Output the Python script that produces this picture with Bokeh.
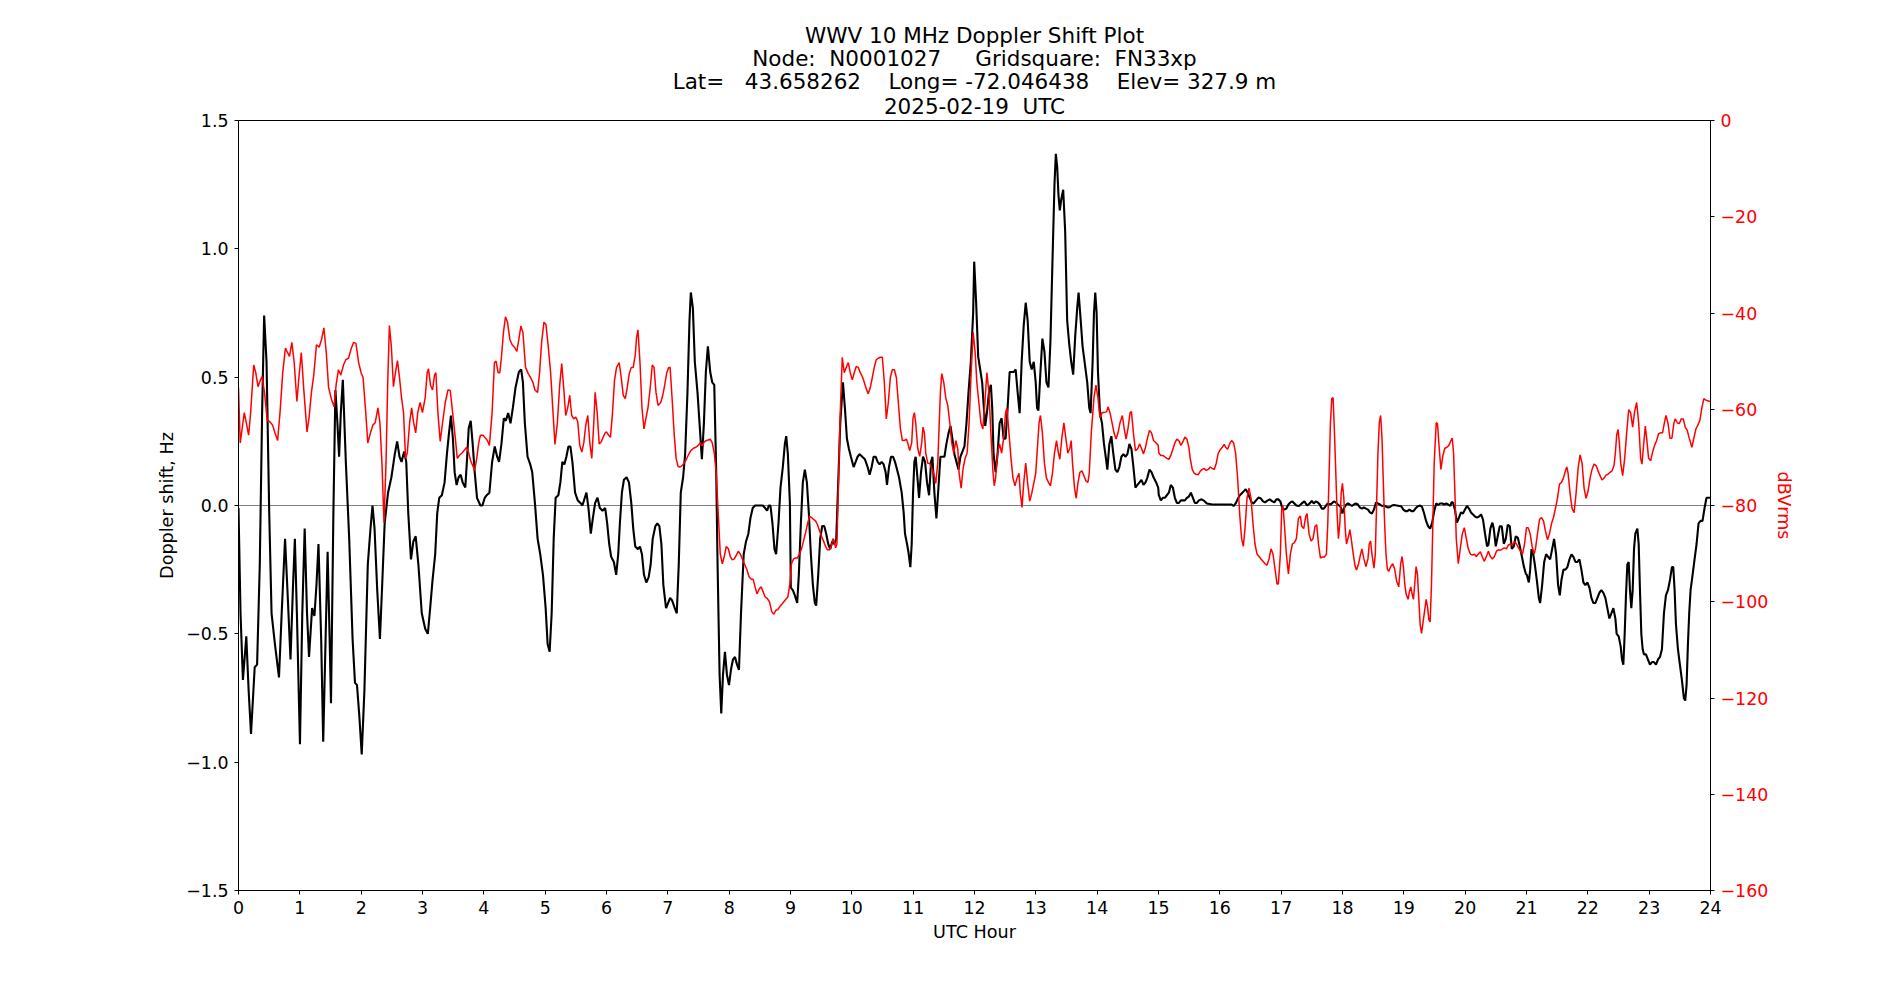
from bokeh.plotting import figure
from bokeh.models import Range1d, LinearAxis, FixedTicker, CustomJSTickFormatter, Span, Title
from bokeh.embed import file_html
from bokeh.resources import INLINE

# ---------------- data (hour, value) ----------------
hz_00_03 = [(0.000,-0.01),(0.033,-0.42),(0.072,-0.68),(0.127,-0.51),(0.165,-0.72),(0.204,-0.89),(0.264,-0.63),(0.303,-0.62),(0.347,-0.23),(0.385,0.36),(0.418,0.74),(0.457,0.56),(0.501,-0.03),(0.539,-0.42),(0.594,-0.54),(0.660,-0.67),(0.704,-0.42),(0.759,-0.13),(0.798,-0.33),(0.848,-0.60),(0.886,-0.33),(0.919,-0.13),(0.952,-0.42),(1.002,-0.93),(1.040,-0.42),(1.079,-0.09),(1.117,-0.42),(1.150,-0.59),(1.200,-0.40),(1.238,-0.43),(1.271,-0.31),(1.304,-0.15),(1.348,-0.52),(1.381,-0.92),(1.420,-0.52),(1.453,-0.18),(1.486,-0.52),(1.508,-0.77),(1.547,-0.03),(1.580,0.45),(1.613,0.32),(1.640,0.19),(1.668,0.36),(1.701,0.49),(1.750,0.17),(1.805,-0.13),(1.860,-0.52),(1.899,-0.69),(1.932,-0.70),(1.970,-0.82),(2.009,-0.97),(2.053,-0.72),(2.108,-0.23),(2.152,-0.09),(2.185,0.00),(2.218,-0.09),(2.262,-0.33),(2.306,-0.52),(2.339,-0.33),(2.383,-0.07),(2.438,0.05),(2.493,0.11),(2.548,0.20),(2.587,0.25),(2.625,0.19),(2.658,0.17),(2.702,0.21),(2.735,0.17),(2.768,-0.03),(2.812,-0.21),(2.851,-0.14),(2.889,-0.12),(2.933,-0.23),(2.988,-0.42)]
hz_03_06 = [(3.044,-0.48),(3.087,-0.50),(3.125,-0.40),(3.164,-0.29),(3.207,-0.19),(3.240,-0.03),(3.273,0.03),(3.316,0.04),(3.360,0.09),(3.398,0.20),(3.431,0.28),(3.464,0.35),(3.496,0.26),(3.524,0.13),(3.556,0.08),(3.589,0.11),(3.622,0.12),(3.655,0.09),(3.698,0.07),(3.731,0.20),(3.753,0.30),(3.786,0.33),(3.818,0.24),(3.851,0.13),(3.889,0.03),(3.944,0.00),(3.977,0.00),(4.015,0.03),(4.047,0.04),(4.091,0.05),(4.135,0.17),(4.178,0.23),(4.217,0.19),(4.249,0.17),(4.287,0.24),(4.326,0.34),(4.358,0.33),(4.397,0.36),(4.435,0.32),(4.473,0.38),(4.517,0.46),(4.571,0.52),(4.609,0.53),(4.637,0.48),(4.669,0.32),(4.713,0.19),(4.757,0.16),(4.789,0.13),(4.833,0.01),(4.877,-0.13),(4.920,-0.19),(4.964,-0.27),(5.008,-0.40),(5.040,-0.54),(5.073,-0.57),(5.106,-0.42),(5.139,-0.13),(5.171,0.03),(5.215,0.04),(5.248,0.09),(5.280,0.17),(5.313,0.16),(5.346,0.19),(5.379,0.23),(5.411,0.23),(5.444,0.17),(5.488,0.05),(5.531,0.02),(5.575,0.01),(5.608,0.00),(5.646,0.03),(5.673,0.05),(5.706,-0.01),(5.744,-0.11),(5.777,-0.05),(5.815,0.01),(5.853,0.03),(5.891,-0.01),(5.935,-0.02),(5.979,-0.01)]
hz_06_09 = [(6.011,-0.07),(6.044,-0.15),(6.076,-0.20),(6.120,-0.22),(6.158,-0.27),(6.191,-0.19),(6.218,-0.07),(6.251,0.05),(6.284,0.10),(6.327,0.11),(6.366,0.09),(6.404,0.01),(6.436,-0.09),(6.469,-0.16),(6.513,-0.17),(6.546,-0.16),(6.578,-0.19),(6.611,-0.27),(6.649,-0.30),(6.687,-0.28),(6.720,-0.23),(6.753,-0.13),(6.797,-0.08),(6.829,-0.07),(6.862,-0.08),(6.895,-0.15),(6.927,-0.31),(6.971,-0.40),(7.004,-0.38),(7.037,-0.36),(7.069,-0.37),(7.113,-0.40),(7.146,-0.42),(7.178,-0.23),(7.211,0.05),(7.249,0.11),(7.282,0.20),(7.320,0.44),(7.353,0.72),(7.375,0.83),(7.408,0.77),(7.440,0.56),(7.484,0.44),(7.517,0.32),(7.555,0.18),(7.588,0.32),(7.620,0.52),(7.653,0.62),(7.691,0.52),(7.724,0.48),(7.757,0.47),(7.789,0.13),(7.811,-0.23),(7.844,-0.66),(7.871,-0.81),(7.899,-0.66),(7.931,-0.57),(7.964,-0.66),(7.997,-0.70),(8.029,-0.64),(8.062,-0.60),(8.095,-0.59),(8.128,-0.62),(8.160,-0.64),(8.193,-0.42),(8.237,-0.19),(8.275,-0.14),(8.313,-0.11),(8.346,-0.05),(8.384,-0.01),(8.422,0.00),(8.466,0.00),(8.510,0.00),(8.548,0.00),(8.586,-0.01),(8.619,-0.02),(8.646,0.00),(8.673,0.00),(8.706,-0.07),(8.739,-0.17),(8.766,-0.19),(8.804,-0.07),(8.837,0.07),(8.875,0.15),(8.908,0.24),(8.930,0.27),(8.957,0.20),(8.990,0.01)]
hz_09_12 = [(9.005,-0.32),(9.038,-0.33),(9.071,-0.35),(9.109,-0.38),(9.136,-0.27),(9.169,-0.07),(9.201,0.09),(9.234,0.14),(9.267,0.09),(9.299,-0.03),(9.332,-0.19),(9.365,-0.31),(9.397,-0.38),(9.419,-0.39),(9.452,-0.27),(9.484,-0.13),(9.517,-0.08),(9.550,-0.08),(9.582,-0.11),(9.615,-0.15),(9.648,-0.17),(9.680,-0.14),(9.713,-0.15),(9.746,-0.13),(9.778,0.09),(9.811,0.32),(9.855,0.48),(9.887,0.38),(9.920,0.26),(9.953,0.22),(9.985,0.19),(10.029,0.15),(10.062,0.17),(10.094,0.19),(10.127,0.20),(10.170,0.19),(10.214,0.18),(10.257,0.15),(10.290,0.12),(10.323,0.15),(10.355,0.19),(10.388,0.19),(10.421,0.17),(10.453,0.16),(10.486,0.17),(10.519,0.16),(10.551,0.13),(10.573,0.08),(10.606,0.15),(10.639,0.19),(10.671,0.19),(10.704,0.17),(10.737,0.14),(10.769,0.11),(10.813,0.05),(10.846,-0.03),(10.867,-0.11),(10.900,-0.15),(10.922,-0.18),(10.954,-0.24),(10.976,-0.15),(10.998,0.05),(11.020,0.17),(11.041,0.19),(11.069,0.11),(11.096,0.03),(11.128,0.13),(11.161,0.19),(11.194,0.17),(11.226,0.09),(11.259,0.04),(11.292,0.17),(11.314,0.19),(11.346,0.05),(11.379,-0.05),(11.412,0.07),(11.444,0.19),(11.477,0.19),(11.510,0.19),(11.542,0.24),(11.575,0.28),(11.608,0.31),(11.640,0.26),(11.673,0.20),(11.706,0.17),(11.738,0.14),(11.771,0.19),(11.803,0.21),(11.836,0.23),(11.869,0.32),(11.902,0.44),(11.940,0.56),(11.978,0.75)]
hz_12_15 = [(11.995,0.95),(12.027,0.79),(12.060,0.58),(12.093,0.53),(12.125,0.48),(12.147,0.40),(12.175,0.31),(12.202,0.36),(12.235,0.44),(12.267,0.47),(12.289,0.38),(12.311,0.20),(12.344,0.13),(12.376,0.20),(12.409,0.32),(12.442,0.34),(12.475,0.26),(12.507,0.26),(12.540,0.38),(12.573,0.52),(12.606,0.52),(12.638,0.52),(12.671,0.53),(12.704,0.44),(12.736,0.36),(12.769,0.56),(12.802,0.70),(12.835,0.79),(12.867,0.72),(12.900,0.56),(12.933,0.53),(12.966,0.56),(12.998,0.48),(13.020,0.38),(13.042,0.37),(13.075,0.52),(13.107,0.65),(13.140,0.60),(13.173,0.48),(13.206,0.46),(13.238,0.64),(13.271,0.95),(13.304,1.25),(13.326,1.37),(13.348,1.32),(13.369,1.21),(13.391,1.15),(13.413,1.19),(13.446,1.23),(13.478,1.07),(13.511,0.72),(13.544,0.63),(13.577,0.56),(13.609,0.51),(13.642,0.66),(13.675,0.77),(13.697,0.83),(13.729,0.73),(13.762,0.62),(13.795,0.56),(13.838,0.48),(13.871,0.38),(13.893,0.36),(13.926,0.56),(13.948,0.75),(13.969,0.83),(13.991,0.75),(14.013,0.52),(14.046,0.36),(14.079,0.32),(14.111,0.24),(14.139,0.19),(14.166,0.14),(14.199,0.24),(14.231,0.27),(14.264,0.20),(14.297,0.14),(14.330,0.13),(14.362,0.15),(14.395,0.19),(14.428,0.20),(14.460,0.19),(14.493,0.20),(14.526,0.24),(14.559,0.22),(14.591,0.15),(14.624,0.07),(14.657,0.08),(14.690,0.09),(14.722,0.10),(14.755,0.08),(14.788,0.09),(14.820,0.11),(14.853,0.14),(14.886,0.13),(14.919,0.11),(14.962,0.09),(14.995,0.07)]
hz_15_18 = [(15.005,0.04),(15.038,0.02),(15.071,0.03),(15.103,0.03),(15.136,0.04),(15.169,0.05),(15.201,0.08),(15.234,0.07),(15.267,0.03),(15.299,0.01),(15.332,0.01),(15.365,0.02),(15.397,0.02),(15.430,0.02),(15.463,0.03),(15.495,0.035),(15.528,0.05),(15.561,0.03),(15.593,0.01),(15.626,0.01),(15.659,0.02),(15.702,0.024),(15.746,0.018),(15.789,0.008),(15.833,0.006),(15.876,0.004),(15.974,0.004),(16.083,0.004),(16.192,0.004),(16.225,-0.002),(16.257,0.008),(16.290,0.024),(16.323,0.039),(16.355,0.047),(16.388,0.055),(16.421,0.063),(16.453,0.051),(16.486,0.031),(16.519,0.012),(16.551,0.008),(16.584,0.018),(16.628,0.031),(16.671,0.027),(16.704,0.016),(16.737,0.012),(16.769,0.018),(16.813,0.024),(16.856,0.016),(16.889,0.012),(16.922,0.024),(16.954,0.024),(16.987,0.016),(17.020,-0.012),(17.052,-0.016),(17.085,-0.012),(17.118,0.004),(17.150,0.012),(17.183,0.016),(17.216,0.008),(17.248,0.000),(17.292,-0.002),(17.335,0.008),(17.379,0.016),(17.422,0.000),(17.466,0.008),(17.499,0.018),(17.531,0.008),(17.564,0.016),(17.597,0.012),(17.629,0.004),(17.662,-0.012),(17.695,-0.012),(17.727,-0.002),(17.760,0.008),(17.793,0.004),(17.825,0.008),(17.858,0.016),(17.891,0.012),(17.923,0.004),(17.967,-0.004),(17.999,-0.031)]
hz_18_21 = [(18.022,-0.012),(18.055,0.002),(18.087,0.008),(18.120,0.004),(18.153,-0.002),(18.185,0.004),(18.218,0.008),(18.251,0.004),(18.284,-0.008),(18.316,-0.012),(18.349,-0.008),(18.382,-0.012),(18.415,-0.016),(18.447,-0.027),(18.480,-0.031),(18.513,-0.016),(18.546,0.012),(18.578,0.008),(18.611,0.004),(18.644,-0.002),(18.676,0.000),(18.709,-0.004),(18.742,-0.008),(18.775,-0.006),(18.807,0.000),(18.840,0.002),(18.884,0.000),(18.927,-0.002),(18.960,-0.004),(18.993,-0.016),(19.026,-0.022),(19.058,-0.022),(19.091,-0.016),(19.124,-0.022),(19.157,-0.022),(19.189,-0.012),(19.222,-0.004),(19.266,0.000),(19.298,-0.006),(19.331,-0.031),(19.364,-0.061),(19.397,-0.081),(19.429,-0.090),(19.462,-0.067),(19.495,-0.022),(19.528,0.008),(19.560,0.002),(19.593,0.008),(19.626,0.008),(19.658,0.004),(19.691,0.008),(19.724,0.004),(19.757,-0.002),(19.778,0.012),(19.800,0.012),(19.833,-0.016),(19.866,-0.067),(19.899,-0.047),(19.931,-0.027),(19.964,-0.031),(19.997,-0.016),(20.029,-0.002),(20.062,-0.012),(20.095,-0.027),(20.128,-0.035),(20.160,-0.043),(20.193,-0.047),(20.226,-0.043),(20.259,-0.035),(20.291,-0.055),(20.324,-0.110),(20.357,-0.159),(20.379,-0.153),(20.411,-0.090),(20.444,-0.067),(20.466,-0.090),(20.499,-0.159),(20.531,-0.120),(20.564,-0.081),(20.597,-0.081),(20.630,-0.149),(20.662,-0.130),(20.695,-0.075),(20.728,-0.081),(20.760,-0.169),(20.793,-0.159),(20.826,-0.120),(20.859,-0.126),(20.891,-0.159),(20.924,-0.198),(20.957,-0.238),(20.990,-0.267)]
hz_21_24 = [(21.005,-0.27),(21.038,-0.30),(21.060,-0.25),(21.081,-0.17),(21.103,-0.18),(21.136,-0.23),(21.168,-0.29),(21.201,-0.36),(21.222,-0.38),(21.255,-0.31),(21.288,-0.22),(21.320,-0.19),(21.353,-0.20),(21.385,-0.21),(21.418,-0.17),(21.450,-0.13),(21.483,-0.19),(21.515,-0.31),(21.543,-0.35),(21.570,-0.29),(21.602,-0.25),(21.635,-0.25),(21.667,-0.24),(21.700,-0.21),(21.733,-0.19),(21.765,-0.20),(21.798,-0.22),(21.830,-0.22),(21.863,-0.21),(21.895,-0.25),(21.928,-0.30),(21.960,-0.31),(21.993,-0.30),(22.026,-0.32),(22.058,-0.36),(22.091,-0.38),(22.123,-0.38),(22.156,-0.36),(22.188,-0.34),(22.221,-0.33),(22.253,-0.34),(22.286,-0.36),(22.318,-0.40),(22.351,-0.44),(22.384,-0.42),(22.416,-0.40),(22.449,-0.44),(22.470,-0.50),(22.503,-0.51),(22.536,-0.55),(22.557,-0.60),(22.579,-0.62),(22.601,-0.50),(22.622,-0.35),(22.644,-0.23),(22.666,-0.22),(22.687,-0.33),(22.709,-0.40),(22.731,-0.33),(22.753,-0.17),(22.774,-0.11),(22.807,-0.09),(22.829,-0.15),(22.850,-0.33),(22.872,-0.50),(22.894,-0.56),(22.915,-0.58),(22.948,-0.58),(22.980,-0.60),(23.013,-0.62),(23.046,-0.61),(23.078,-0.61),(23.111,-0.62),(23.143,-0.60),(23.176,-0.59),(23.208,-0.56),(23.241,-0.42),(23.273,-0.35),(23.306,-0.33),(23.339,-0.29),(23.371,-0.24),(23.393,-0.24),(23.415,-0.33),(23.436,-0.46),(23.469,-0.56),(23.501,-0.62),(23.534,-0.68),(23.566,-0.75),(23.588,-0.76),(23.610,-0.70),(23.632,-0.54),(23.653,-0.42),(23.675,-0.33),(23.708,-0.27),(23.740,-0.21),(23.773,-0.15),(23.805,-0.07),(23.838,-0.06),(23.870,-0.06),(23.903,-0.01),(23.935,0.03),(23.968,0.03),(24.000,0.03)]

db_00_03 = [(0.000,-55.5),(0.028,-67.0),(0.061,-63.9),(0.094,-60.7),(0.127,-62.8),(0.165,-65.4),(0.198,-60.7),(0.248,-50.8),(0.281,-52.4),(0.319,-55.3),(0.358,-53.9),(0.385,-53.2),(0.424,-56.5),(0.468,-62.3),(0.512,-62.6),(0.556,-63.3),(0.594,-64.9),(0.638,-66.5),(0.677,-60.7),(0.721,-52.4),(0.765,-47.3),(0.798,-48.2),(0.831,-49.0),(0.870,-46.1),(0.908,-50.3),(0.952,-58.4),(0.985,-53.4),(1.024,-48.2),(1.062,-55.5),(1.117,-64.7),(1.150,-61.8),(1.189,-56.5),(1.227,-52.9),(1.271,-46.6),(1.315,-47.1),(1.354,-45.5),(1.392,-43.1),(1.431,-48.2),(1.469,-55.5),(1.519,-58.1),(1.558,-59.5),(1.591,-55.0),(1.629,-51.8),(1.668,-52.9),(1.712,-50.8),(1.750,-49.7),(1.794,-49.4),(1.833,-47.6),(1.877,-46.1),(1.915,-46.3),(1.959,-50.3),(1.998,-52.4),(2.031,-53.4),(2.075,-60.7),(2.108,-67.0),(2.152,-64.9),(2.190,-63.3),(2.229,-62.8),(2.273,-59.7),(2.306,-62.8),(2.339,-71.2),(2.372,-83.6),(2.405,-71.2),(2.433,-54.4),(2.460,-42.6),(2.493,-47.1),(2.526,-55.3),(2.559,-52.4),(2.592,-49.9),(2.625,-53.4),(2.658,-57.6),(2.691,-60.7),(2.724,-70.2),(2.752,-69.1),(2.790,-62.8),(2.823,-59.7),(2.856,-62.8),(2.889,-64.9),(2.922,-60.7),(2.961,-58.6),(2.999,-60.7)]
db_03_06 = [(3.044,-57.6),(3.076,-52.4),(3.098,-51.6),(3.131,-55.0),(3.164,-56.0),(3.196,-52.9),(3.218,-52.4),(3.251,-60.7),(3.289,-66.7),(3.327,-62.8),(3.371,-58.6),(3.415,-56.0),(3.453,-56.1),(3.491,-60.7),(3.535,-66.0),(3.567,-70.2),(3.600,-69.6),(3.644,-69.1),(3.687,-68.4),(3.720,-67.9),(3.753,-69.1),(3.786,-70.7),(3.818,-71.7),(3.851,-72.7),(3.884,-70.2),(3.917,-67.0),(3.944,-65.4),(3.987,-65.4),(4.026,-66.0),(4.058,-66.5),(4.091,-67.5),(4.135,-60.7),(4.173,-50.3),(4.200,-50.0),(4.233,-52.4),(4.260,-52.4),(4.287,-49.2),(4.320,-44.0),(4.353,-40.8),(4.386,-41.9),(4.424,-45.5),(4.462,-46.6),(4.500,-47.1),(4.538,-48.0),(4.571,-45.5),(4.604,-42.7),(4.637,-44.0),(4.680,-51.3),(4.724,-52.6),(4.762,-53.4),(4.800,-54.4),(4.833,-56.0),(4.877,-56.5),(4.909,-52.4),(4.942,-46.1),(4.980,-41.9),(5.013,-42.4),(5.051,-47.1),(5.089,-52.4),(5.128,-60.7),(5.160,-67.3),(5.199,-62.8),(5.237,-55.0),(5.270,-50.5),(5.302,-55.5),(5.335,-61.3),(5.368,-59.7),(5.400,-57.1),(5.433,-61.3),(5.466,-62.0),(5.499,-61.6),(5.531,-62.6),(5.564,-67.5),(5.597,-68.9),(5.630,-67.0),(5.662,-63.3),(5.695,-61.3),(5.728,-67.0),(5.760,-70.2),(5.793,-62.8),(5.815,-56.5),(5.848,-60.7),(5.881,-67.2),(5.913,-66.8),(5.946,-65.8),(5.979,-64.9)]
db_06_09 = [(6.000,-64.7),(6.033,-65.4),(6.065,-65.8),(6.098,-60.7),(6.131,-53.9),(6.164,-51.3),(6.207,-50.3),(6.240,-53.4),(6.273,-57.1),(6.306,-57.8),(6.338,-55.5),(6.371,-52.6),(6.404,-51.3),(6.436,-51.3),(6.469,-48.7),(6.491,-45.0),(6.513,-43.5),(6.546,-50.3),(6.578,-59.7),(6.611,-64.1),(6.644,-61.8),(6.676,-59.7),(6.709,-56.0),(6.747,-50.8),(6.775,-51.3),(6.807,-56.5),(6.840,-59.2),(6.884,-58.6),(6.917,-57.1),(6.949,-55.0),(6.982,-52.4),(7.015,-51.3),(7.037,-51.3),(7.069,-57.6),(7.102,-64.9),(7.135,-70.2),(7.167,-71.9),(7.200,-72.0),(7.233,-71.7),(7.266,-71.2),(7.298,-70.5),(7.331,-69.6),(7.375,-68.6),(7.418,-68.1),(7.457,-67.9),(7.495,-67.5),(7.528,-67.0),(7.560,-67.6),(7.593,-66.8),(7.626,-66.5),(7.658,-66.4),(7.691,-66.2),(7.724,-67.0),(7.757,-69.1),(7.789,-73.3),(7.822,-81.7),(7.855,-90.1),(7.888,-92.1),(7.920,-90.6),(7.953,-88.5),(7.986,-89.0),(8.019,-90.6),(8.051,-91.3),(8.084,-91.1),(8.117,-90.3),(8.149,-89.5),(8.182,-90.1),(8.215,-91.1),(8.248,-92.1),(8.291,-93.4),(8.324,-94.8),(8.357,-95.3),(8.390,-95.3),(8.422,-96.9),(8.455,-98.4),(8.488,-97.4),(8.520,-96.9),(8.553,-97.9),(8.586,-99.0),(8.619,-99.3),(8.657,-100.0),(8.695,-102.1),(8.728,-102.6),(8.760,-101.8),(8.793,-101.6),(8.826,-101.0),(8.859,-100.5),(8.891,-100.0),(8.924,-99.5),(8.957,-99.0),(8.990,-96.3)]
db_09_12 = [(9.016,-92.1),(9.049,-91.1),(9.082,-90.9),(9.114,-90.9),(9.147,-90.1),(9.180,-89.0),(9.212,-87.4),(9.245,-85.7),(9.278,-83.8),(9.310,-82.2),(9.343,-82.5),(9.376,-82.9),(9.408,-83.2),(9.441,-84.0),(9.474,-85.3),(9.506,-86.4),(9.539,-87.4),(9.572,-88.5),(9.604,-89.2),(9.637,-89.2),(9.670,-88.2),(9.691,-86.9),(9.713,-87.4),(9.735,-88.8),(9.757,-88.0),(9.778,-77.5),(9.811,-60.7),(9.844,-49.2),(9.876,-52.4),(9.909,-51.3),(9.942,-50.3),(9.974,-52.4),(10.007,-53.9),(10.040,-52.4),(10.072,-51.1),(10.105,-51.3),(10.138,-52.4),(10.170,-53.2),(10.203,-54.4),(10.236,-55.8),(10.268,-56.8),(10.301,-55.5),(10.334,-53.4),(10.366,-51.3),(10.399,-49.7),(10.432,-49.4),(10.464,-49.2),(10.497,-49.2),(10.530,-54.4),(10.562,-62.0),(10.595,-58.6),(10.628,-53.4),(10.660,-51.8),(10.693,-51.8),(10.726,-53.4),(10.758,-58.6),(10.791,-63.9),(10.824,-66.5),(10.856,-66.5),(10.889,-66.2),(10.911,-67.0),(10.943,-68.6),(10.976,-67.0),(10.998,-61.8),(11.020,-60.7),(11.041,-62.8),(11.074,-68.1),(11.107,-69.8),(11.139,-67.0),(11.161,-63.7),(11.183,-64.9),(11.205,-69.1),(11.237,-71.2),(11.270,-71.2),(11.303,-72.3),(11.335,-73.3),(11.368,-75.4),(11.401,-71.2),(11.422,-63.9),(11.444,-56.5),(11.466,-52.6),(11.499,-54.4),(11.531,-57.6),(11.564,-59.2),(11.597,-62.8),(11.629,-67.0),(11.662,-69.1),(11.695,-66.5),(11.727,-68.1),(11.749,-73.3),(11.782,-76.4),(11.814,-72.3),(11.847,-70.2),(11.880,-69.1),(11.912,-62.8),(11.945,-52.4),(11.978,-44.0)]
db_12_15 = [(12.011,-48.2),(12.038,-54.4),(12.071,-58.6),(12.104,-62.8),(12.136,-64.1),(12.169,-58.6),(12.202,-52.4),(12.235,-56.5),(12.267,-64.9),(12.300,-72.8),(12.322,-75.9),(12.344,-74.3),(12.376,-69.1),(12.409,-67.2),(12.442,-69.1),(12.475,-66.0),(12.507,-60.7),(12.529,-59.7),(12.562,-64.9),(12.595,-70.2),(12.627,-74.3),(12.660,-75.9),(12.693,-74.3),(12.726,-73.3),(12.747,-77.5),(12.775,-80.4),(12.802,-75.4),(12.835,-71.2),(12.867,-75.4),(12.900,-79.1),(12.933,-77.5),(12.966,-75.4),(12.998,-73.3),(13.031,-67.0),(13.053,-62.8),(13.075,-61.3),(13.107,-64.9),(13.140,-71.2),(13.173,-74.3),(13.206,-75.2),(13.238,-75.9),(13.271,-73.3),(13.304,-69.1),(13.337,-66.5),(13.369,-69.1),(13.391,-70.4),(13.424,-66.0),(13.457,-62.8),(13.489,-66.0),(13.522,-69.1),(13.555,-68.1),(13.577,-66.5),(13.598,-71.2),(13.631,-76.4),(13.658,-78.5),(13.686,-75.4),(13.718,-73.1),(13.751,-72.8),(13.784,-73.8),(13.817,-74.9),(13.849,-75.2),(13.871,-73.3),(13.904,-64.9),(13.948,-57.6),(13.980,-55.0),(14.013,-57.6),(14.046,-61.8),(14.079,-60.7),(14.111,-60.7),(14.155,-60.5),(14.177,-59.5),(14.209,-60.7),(14.242,-62.8),(14.275,-64.9),(14.308,-66.2),(14.340,-64.9),(14.373,-62.8),(14.411,-61.3),(14.439,-63.9),(14.471,-66.2),(14.504,-63.9),(14.537,-60.7),(14.559,-60.5),(14.591,-64.9),(14.624,-68.6),(14.657,-68.3),(14.690,-67.2),(14.722,-68.1),(14.755,-69.3),(14.788,-67.9),(14.820,-66.0),(14.853,-64.4),(14.886,-64.9),(14.919,-66.5),(14.962,-67.0),(14.995,-67.5)]
db_15_18 = [(15.005,-69.1),(15.038,-69.6),(15.071,-69.6),(15.103,-69.9),(15.136,-70.2),(15.169,-70.4),(15.201,-69.6),(15.234,-68.3),(15.267,-67.0),(15.299,-66.2),(15.332,-66.5),(15.365,-67.5),(15.397,-66.8),(15.430,-65.8),(15.463,-66.2),(15.495,-67.9),(15.517,-70.2),(15.550,-72.5),(15.582,-73.3),(15.615,-73.5),(15.648,-73.6),(15.680,-72.9),(15.713,-72.5),(15.746,-72.3),(15.778,-72.7),(15.811,-72.5),(15.844,-72.0),(15.876,-72.3),(15.909,-72.5),(15.942,-71.2),(15.974,-69.1),(16.007,-68.4),(16.040,-67.9),(16.072,-67.3),(16.094,-67.9),(16.127,-68.3),(16.159,-67.2),(16.192,-66.5),(16.225,-67.0),(16.257,-69.1),(16.290,-74.3),(16.323,-81.7),(16.355,-86.9),(16.383,-88.5),(16.410,-84.8),(16.443,-78.5),(16.475,-76.4),(16.508,-78.5),(16.541,-83.8),(16.573,-88.0),(16.606,-90.1),(16.639,-90.6),(16.671,-91.1),(16.704,-91.6),(16.737,-92.1),(16.769,-92.4),(16.802,-91.1),(16.835,-89.0),(16.867,-90.1),(16.900,-93.2),(16.932,-96.3),(16.954,-96.3),(16.987,-90.1),(17.009,-80.6),(17.030,-80.1),(17.052,-83.8),(17.085,-90.1),(17.118,-94.2),(17.150,-90.1),(17.183,-88.0),(17.216,-87.7),(17.248,-86.9),(17.281,-82.7),(17.314,-82.2),(17.335,-84.3),(17.368,-84.8),(17.401,-82.2),(17.422,-81.7),(17.455,-85.9),(17.488,-87.4),(17.520,-86.9),(17.553,-84.3),(17.580,-84.0),(17.608,-88.0),(17.640,-90.9),(17.673,-90.7),(17.706,-90.7),(17.738,-90.1),(17.760,-83.8),(17.782,-73.3),(17.803,-62.8),(17.825,-57.8),(17.847,-57.6),(17.869,-64.9),(17.891,-73.3),(17.912,-81.7),(17.934,-86.9),(17.956,-83.8),(17.978,-77.5),(17.999,-75.4)]
db_18_21 = [(18.022,-78.5),(18.044,-84.8),(18.065,-88.0),(18.098,-86.4),(18.120,-85.0),(18.142,-86.9),(18.175,-90.1),(18.207,-92.7),(18.229,-93.4),(18.262,-92.1),(18.295,-90.1),(18.316,-89.0),(18.349,-91.1),(18.382,-92.7),(18.415,-91.1),(18.436,-88.0),(18.458,-87.4),(18.480,-90.1),(18.513,-93.0),(18.535,-90.1),(18.556,-79.6),(18.578,-69.1),(18.600,-62.8),(18.622,-61.3),(18.644,-66.0),(18.666,-75.4),(18.687,-83.8),(18.709,-90.1),(18.731,-93.2),(18.753,-93.7),(18.786,-92.7),(18.818,-92.1),(18.851,-93.2),(18.884,-95.8),(18.917,-96.9),(18.949,-92.1),(18.971,-90.6),(18.993,-92.7),(19.015,-96.3),(19.037,-98.4),(19.069,-99.5),(19.091,-97.9),(19.113,-96.9),(19.135,-98.4),(19.157,-99.5),(19.178,-96.3),(19.200,-92.7),(19.222,-94.2),(19.244,-99.5),(19.266,-104.7),(19.288,-106.6),(19.309,-104.7),(19.342,-101.6),(19.364,-99.5),(19.386,-101.0),(19.408,-103.7),(19.429,-104.2),(19.451,-96.3),(19.473,-83.8),(19.495,-71.2),(19.528,-62.8),(19.549,-63.0),(19.571,-67.0),(19.604,-72.5),(19.637,-69.6),(19.669,-68.1),(19.702,-67.9),(19.735,-67.5),(19.768,-66.5),(19.789,-66.0),(19.811,-69.1),(19.833,-77.5),(19.855,-86.9),(19.888,-92.1),(19.920,-89.0),(19.953,-85.9),(19.986,-84.6),(20.019,-86.9),(20.051,-89.0),(20.084,-90.1),(20.117,-90.3),(20.149,-90.1),(20.182,-90.6),(20.215,-90.1),(20.248,-89.6),(20.280,-90.7),(20.313,-91.6),(20.346,-90.6),(20.379,-89.5),(20.411,-90.6),(20.444,-91.1),(20.477,-90.6),(20.510,-89.5),(20.542,-89.2),(20.575,-89.3),(20.608,-89.0),(20.640,-88.8),(20.673,-89.0),(20.706,-88.2),(20.739,-88.0),(20.771,-88.2),(20.804,-87.5),(20.837,-88.0),(20.869,-88.8),(20.902,-89.5),(20.935,-90.1),(20.968,-88.0),(21.000,-84.6)]
db_21_24 = [(21.027,-84.6),(21.060,-85.9),(21.092,-88.5),(21.125,-90.1),(21.146,-89.0),(21.179,-85.9),(21.212,-82.9),(21.244,-82.5),(21.277,-83.2),(21.309,-85.3),(21.342,-87.1),(21.374,-85.9),(21.407,-83.8),(21.440,-82.5),(21.472,-80.6),(21.505,-78.5),(21.537,-75.6),(21.570,-75.2),(21.602,-74.3),(21.635,-72.8),(21.657,-72.0),(21.678,-73.3),(21.711,-77.5),(21.743,-80.6),(21.776,-81.5),(21.808,-77.5),(21.841,-72.3),(21.874,-69.5),(21.906,-71.2),(21.939,-76.4),(21.971,-78.5),(22.004,-77.0),(22.036,-74.3),(22.069,-72.5),(22.101,-71.4),(22.134,-71.7),(22.167,-72.8),(22.199,-73.8),(22.232,-74.7),(22.264,-74.3),(22.297,-73.7),(22.329,-73.5),(22.362,-73.1),(22.394,-72.8),(22.427,-71.7),(22.449,-69.1),(22.470,-65.4),(22.492,-64.2),(22.514,-67.0),(22.536,-71.2),(22.568,-73.8),(22.601,-70.2),(22.633,-64.9),(22.666,-60.1),(22.698,-60.7),(22.731,-63.7),(22.763,-60.5),(22.796,-58.6),(22.829,-62.8),(22.861,-70.2),(22.883,-71.4),(22.905,-68.1),(22.937,-63.5),(22.959,-66.0),(22.991,-70.2),(23.024,-70.7),(23.056,-68.9),(23.089,-67.5),(23.122,-66.5),(23.154,-65.1),(23.187,-64.9),(23.219,-64.9),(23.241,-63.3),(23.273,-61.3),(23.306,-62.8),(23.339,-66.0),(23.371,-66.0),(23.404,-62.8),(23.425,-62.0),(23.458,-62.8),(23.491,-63.0),(23.523,-62.0),(23.556,-62.0),(23.588,-63.7),(23.621,-64.4),(23.653,-66.0),(23.697,-67.9),(23.729,-66.0),(23.762,-64.1),(23.794,-63.3),(23.827,-62.3),(23.859,-59.7),(23.892,-57.8),(23.924,-58.1),(23.968,-58.3),(24.000,-58.4)]

hour_ticks = list(range(0, 25))
hz_ticks = [-1.5, -1.0, -0.5, 0.0, 0.5, 1.0, 1.5]
db_ticks = [-160, -140, -120, -100, -80, -60, -40, -20, 0]

title_lines = [
    "WWV 10 MHz Doppler Shift Plot",
    "Node:  N0001027     Gridsquare:  FN33xp",
    "Lat=   43.658262    Long= -72.046438    Elev= 327.9 m",
    "2025-02-19  UTC",
]

hz_segments = [hz_00_03, hz_03_06, hz_06_09, hz_09_12, hz_12_15, hz_15_18, hz_18_21, hz_21_24]
db_segments = [db_00_03, db_03_06, db_06_09, db_09_12, db_12_15, db_15_18, db_18_21, db_21_24]
black_x = [t for seg in hz_segments for t, v in seg]
black_y = [v for seg in hz_segments for t, v in seg]
red_x = [t for seg in db_segments for t, v in seg]
red_y = [v for seg in db_segments for t, v in seg]

FONT = "DejaVu Sans"
TICK_SIZE = "17.4px"
LABEL_SIZE = "17.6px"
TITLE_SIZE = "21.5px"

W, H = 1900, 1000
BL, BR, BT, BB = 238, 190, 120, 110

p = figure(width=W, height=H, output_backend="svg", toolbar_location=None,
           x_range=Range1d(0, 24), y_range=Range1d(-1.5, 1.5),
           min_border_left=BL, min_border_right=BR, min_border_top=BT, min_border_bottom=BB,
           background_fill_color="white", border_fill_color="white")
p.extra_y_ranges = {"db": Range1d(-160, 0)}

p.xgrid.visible = False
p.ygrid.visible = False
p.outline_line_color = "black"
p.outline_line_width = 1

p.add_layout(Span(location=0, dimension="width", line_color="#808080", line_width=1, level="underlay"))

p.line(black_x, black_y, line_color="black", line_width=2.1)
p.line(red_x, red_y, y_range_name="db", line_color="red", line_width=1.5)

# title: four centred lines; added from the one nearest the frame outward
for i, txt in enumerate(reversed(title_lines)):
    p.add_layout(Title(text=txt.replace(" ", "\u00a0"), align="center", vertical_align="middle",
                       standoff=(1 if i == 0 else -4),
                       text_font=FONT, text_font_size=TITLE_SIZE, text_font_style="normal",
                       text_color="black"), "above")

ax2 = LinearAxis(y_range_name="db", axis_label="dBVrms")
p.add_layout(ax2, "right")

xa = p.xaxis[0]
ya = p.yaxis[0]
xa.axis_label = "UTC Hour"
ya.axis_label = "Doppler shift, Hz"
xa.ticker = FixedTicker(ticks=hour_ticks)
ya.ticker = FixedTicker(ticks=hz_ticks)
ax2.ticker = FixedTicker(ticks=db_ticks)
xa.formatter = CustomJSTickFormatter(code="return tick.toFixed(0);")
ya.formatter = CustomJSTickFormatter(code="return tick.toFixed(1).replace('-', '\u2212');")
ax2.formatter = CustomJSTickFormatter(code="return tick.toFixed(0).replace('-', '\u2212');")

for ax in (xa, ya, ax2):
    ax.major_label_text_font = FONT
    ax.major_label_text_font_size = TICK_SIZE
    ax.major_label_text_color = "black"
    ax.axis_label_text_font = FONT
    ax.axis_label_text_font_size = LABEL_SIZE
    ax.axis_label_text_font_style = "normal"
    ax.axis_label_text_color = "black"
    ax.major_tick_in = 0
    ax.major_tick_out = 4
    ax.minor_tick_in = 0
    ax.minor_tick_out = 0
    ax.major_label_standoff = 6
    ax.axis_label_standoff = 6
    ax.axis_line_color = "black"
    ax.axis_line_width = 1
    ax.major_tick_line_color = "black"
    ax.major_tick_line_width = 1

ax2.major_label_text_color = "red"
ax2.axis_label_text_color = "red"
ax2.axis_label_standoff = 3
xa.axis_label_standoff = 5

open("out.html", "w").write(file_html(p, INLINE))
